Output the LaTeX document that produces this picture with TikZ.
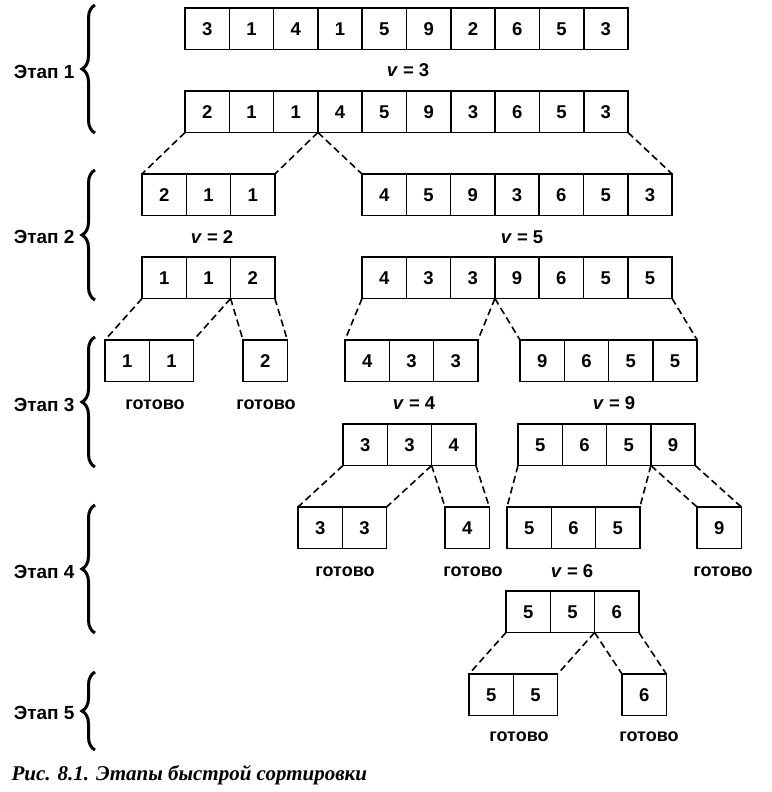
\documentclass[tikz,border=0pt]{standalone}
\usepackage{fontspec}
\setmainfont{Liberation Sans}
\newfontfamily\capfont{Liberation Serif}
\usetikzlibrary{positioning, decorations.pathreplacing}

% one row of cells: name, left x, top y, values
\newcommand{\cellrow}[4]{%
  \foreach \val [count=\k] in {#4}
    \node[cell] (#1-\k) at ({#2+(\k-0.5)*44.3},{#3+20.75}) {\val};}

\begin{document}
\begin{tikzpicture}[
  x=1pt, y=-1pt,
  font=\fontsize{18.5}{20}\selectfont\bfseries,
  cell/.style={draw, line width=1.6pt, minimum width=44.3pt, minimum height=41.5pt,
    inner sep=0pt, outer sep=0pt, text height=13pt, text depth=0pt},
  split/.style={line width=1.6pt, dash pattern=on 7pt off 4pt},
  pivot/.style={font=\fontsize{18.5}{20}\selectfont\bfseries},
  done/.style={font=\fontsize{18}{20}\selectfont\bfseries},
  stage/.style={anchor=east, font=\fontsize{19}{21}\selectfont\bfseries},
  stagebrace/.style={decorate, decoration={brace, amplitude=13pt}, line width=3pt}
]
\useasboundingbox (0,0) rectangle (771,792);

% stages on the left
\draw[stagebrace] (95,133) -- (95,5);
\node[stage] (st1) at (78,72) {Этап 1};
\draw[stagebrace] (95,300) -- (95,170);
\node[stage] (st2) at (78,237) {Этап 2};
\draw[stagebrace] (95,467) -- (95,337);
\node[stage] (st3) at (78,405) {Этап 3};
\draw[stagebrace] (95,633) -- (95,505);
\node[stage] (st4) at (78,572) {Этап 4};
\draw[stagebrace] (95,750) -- (95,672);
\node[stage] (st5) at (78,713) {Этап 5};

% stage 1
\cellrow{a0}{185}{8}{3,1,4,1,5,9,2,6,5,3}
\node[pivot] (v3) at (408,70) {\textit{v} = 3};
\cellrow{a1}{185}{91}{2,1,1,4,5,9,3,6,5,3}

% stage 2
\cellrow{b1}{142}{174}{2,1,1}
\cellrow{b2}{362}{174}{4,5,9,3,6,5,3}
\node[pivot] (v2) at (212,237) {\textit{v} = 2};
\node[pivot] (v5) at (522,237) {\textit{v} = 5};
\cellrow{c1}{142}{257}{1,1,2}
\cellrow{c2}{362}{257}{4,3,3,9,6,5,5}

% stage 3
\cellrow{d1}{105}{340}{1,1}
\cellrow{d2}{243}{340}{2}
\cellrow{d3}{345}{340}{4,3,3}
\cellrow{d4}{520}{340}{9,6,5,5}
\node[done] (done1) at (155,405) {готово};
\node[done] (done2) at (266,405) {готово};
\node[pivot] (v4) at (414,403) {\textit{v} = 4};
\node[pivot] (v9) at (614,403) {\textit{v} = 9};
\cellrow{e1}{343}{424}{3,3,4}
\cellrow{e2}{518}{424}{5,6,5,9}

% stage 4
\cellrow{f1}{298}{507}{3,3}
\cellrow{f2}{445}{507}{4}
\cellrow{f3}{507}{507}{5,6,5}
\cellrow{f4}{697}{507}{9}
\node[done] (done3) at (345,572) {готово};
\node[done] (done4) at (473,572) {готово};
\node[pivot] (v6) at (572,571) {\textit{v} = 6};
\node[done] (done5) at (723,572) {готово};
\cellrow{g1}{506}{591}{5,5,6}

% stage 5
\cellrow{h1}{469}{674}{5,5}
\cellrow{h2}{622}{674}{6}
\node[done] (done6) at (519,737) {готово};
\node[done] (done7) at (649,737) {готово};

% dashed splits
\draw[split] (a1-1.south west) -- (b1-1.north west);
\draw[split] (a1-3.south east) -- (b1-3.north east);
\draw[split] (a1-3.south east) -- (b2-1.north west);
\draw[split] (a1-10.south east) -- (b2-7.north east);

\draw[split] (c1-1.south west) -- (d1-1.north west);
\draw[split] (c1-2.south east) -- (d1-2.north east);
\draw[split] (c1-2.south east) -- (d2-1.north west);
\draw[split] (c1-3.south east) -- (d2-1.north east);

\draw[split] (c2-1.south west) -- (d3-1.north west);
\draw[split] (c2-3.south east) -- (d3-3.north east);
\draw[split] (c2-3.south east) -- (d4-1.north west);
\draw[split] (c2-7.south east) -- (d4-4.north east);

\draw[split] (e1-1.south west) -- (f1-1.north west);
\draw[split] (e1-2.south east) -- (f1-2.north east);
\draw[split] (e1-2.south east) -- (f2-1.north west);
\draw[split] (e1-3.south east) -- (f2-1.north east);

\draw[split] (e2-1.south west) -- (f3-1.north west);
\draw[split] (e2-3.south east) -- (f3-3.north east);
\draw[split] (e2-3.south east) -- (f4-1.north west);
\draw[split] (e2-4.south east) -- (f4-1.north east);

\draw[split] (g1-1.south west) -- (h1-1.north west);
\draw[split] (g1-2.south east) -- (h1-2.north east);
\draw[split] (g1-2.south east) -- (h2-1.north west);
\draw[split] (g1-3.south east) -- (h2-1.north east);

% caption
\node[anchor=west, font=\capfont\fontsize{21}{23}\selectfont\bfseries\itshape]
  (cap) at (8,775) {Рис. 8.1. Этапы быстрой сортировки};

\end{tikzpicture}
\end{document}
